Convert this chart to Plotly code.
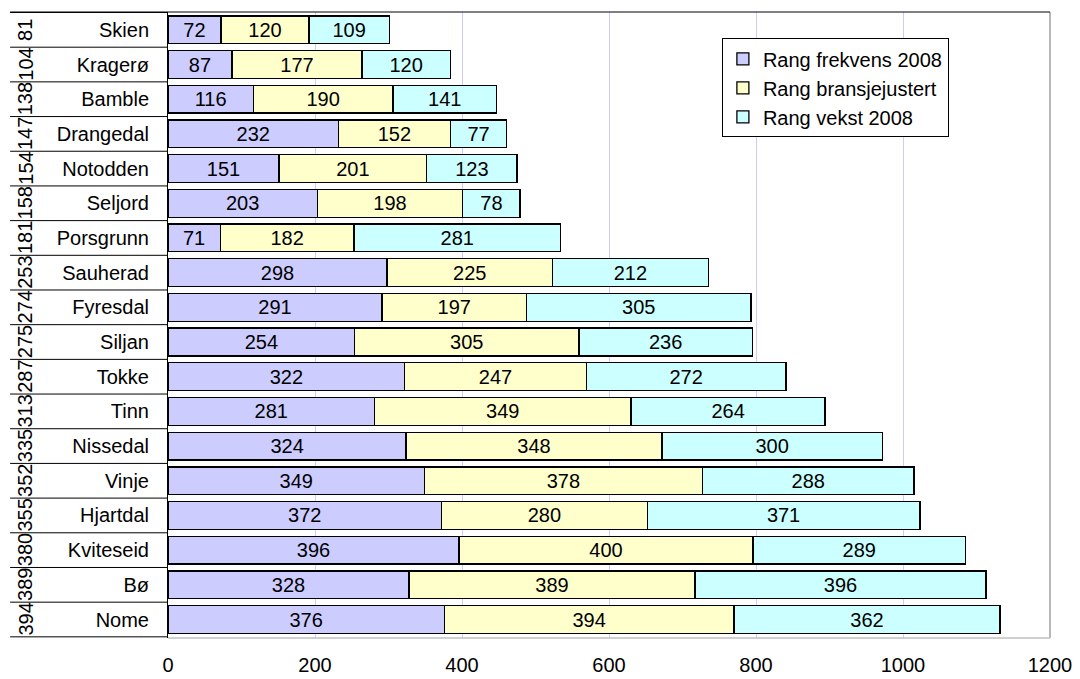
import plotly.graph_objects as go

kommuner = ["Skien", "Kragerø", "Bamble", "Drangedal", "Notodden", "Seljord", "Porsgrunn",
            "Sauherad", "Fyresdal", "Siljan", "Tokke", "Tinn", "Nissedal", "Vinje",
            "Hjartdal", "Kviteseid", "Bø", "Nome"]
samlet_rang = [81, 104, 138, 147, 154, 158, 181, 253, 274, 275, 287, 313, 335, 352, 355, 380, 389, 394]
rang_frekvens = [72, 87, 116, 232, 151, 203, 71, 298, 291, 254, 322, 281, 324, 349, 372, 396, 328, 376]
rang_bransje = [120, 177, 190, 152, 201, 198, 182, 225, 197, 305, 247, 349, 348, 378, 280, 400, 389, 394]
rang_vekst = [109, 120, 141, 77, 123, 78, 281, 212, 305, 236, 272, 264, 300, 288, 371, 289, 396, 362]

series = [
    ("Rang frekvens 2008", rang_frekvens, "#CCCCFF"),
    ("Rang bransjejustert", rang_bransje, "#FFFFCC"),
    ("Rang vekst 2008", rang_vekst, "#CCFFFF"),
]

FONT = "Liberation Sans, Arial, sans-serif"
fig = go.Figure()
for name, vals, col in series:
    fig.add_trace(go.Bar(
        y=kommuner, x=vals, name=name, orientation="h",
        marker=dict(color=col, line=dict(color="black", width=1.3)),
        text=vals, textposition="inside", insidetextanchor="middle",
        textangle=0, constraintext="none",
        textfont=dict(family=FONT, size=20, color="black"),
        hoverinfo="x+y+name",
    ))

shapes = []
n = len(kommuner)
# horizontal separators in the category label area
for i in range(n + 1):
    shapes.append(dict(type="line", xref="paper", yref="y",
                       x0=-0.179, x1=0, y0=i - 0.5, y1=i - 0.5,
                       line=dict(color="black", width=1)))
# plot area border
shapes.append(dict(type="line", xref="paper", yref="paper", x0=1, x1=1, y0=0, y1=1,
                   line=dict(color="#A0A0A0", width=1.5)))
shapes.append(dict(type="line", xref="paper", yref="paper", x0=0, x1=1, y0=0, y1=0,
                   line=dict(color="#C0C0C0", width=1.5)))
shapes.append(dict(type="line", xref="paper", yref="paper", x0=-0.179, x1=1, y0=1, y1=1,
                   line=dict(color="black", width=1)))

annotations = []
for k, r in zip(kommuner, samlet_rang):
    annotations.append(dict(xref="paper", yref="y", x=-0.162, y=k, text=str(r),
                            textangle=-90, showarrow=False, xanchor="center",
                            font=dict(family=FONT, size=20, color="black")))

fig.update_layout(
    barmode="stack",
    bargap=0.2,
    width=1072, height=671,
    margin=dict(l=160, r=30, t=4, b=41),
    paper_bgcolor="white", plot_bgcolor="white",
    font=dict(family=FONT, size=20, color="black"),
    xaxis=dict(range=[0, 1200], dtick=200, showgrid=True, gridcolor="#CCCCFF",
               gridwidth=1, zeroline=False, showline=False, ticks="",
               ticklabelstandoff=13, tickfont=dict(size=20, family=FONT),
               automargin=False),
    yaxis=dict(autorange="reversed", showline=True, linecolor="black", linewidth=1,
               ticks="", ticklabelstandoff=14, tickfont=dict(size=20, family=FONT),
               showgrid=False, automargin=False),
    legend=dict(x=0.628, y=0.958, xanchor="left", yanchor="top",
                bgcolor="white", bordercolor="black", borderwidth=1,
                font=dict(size=20, family=FONT), traceorder="normal",
                itemwidth=30, tracegroupgap=0),
    shapes=shapes,
    annotations=annotations,
    showlegend=True,
)

fig.write_html("out.html")
